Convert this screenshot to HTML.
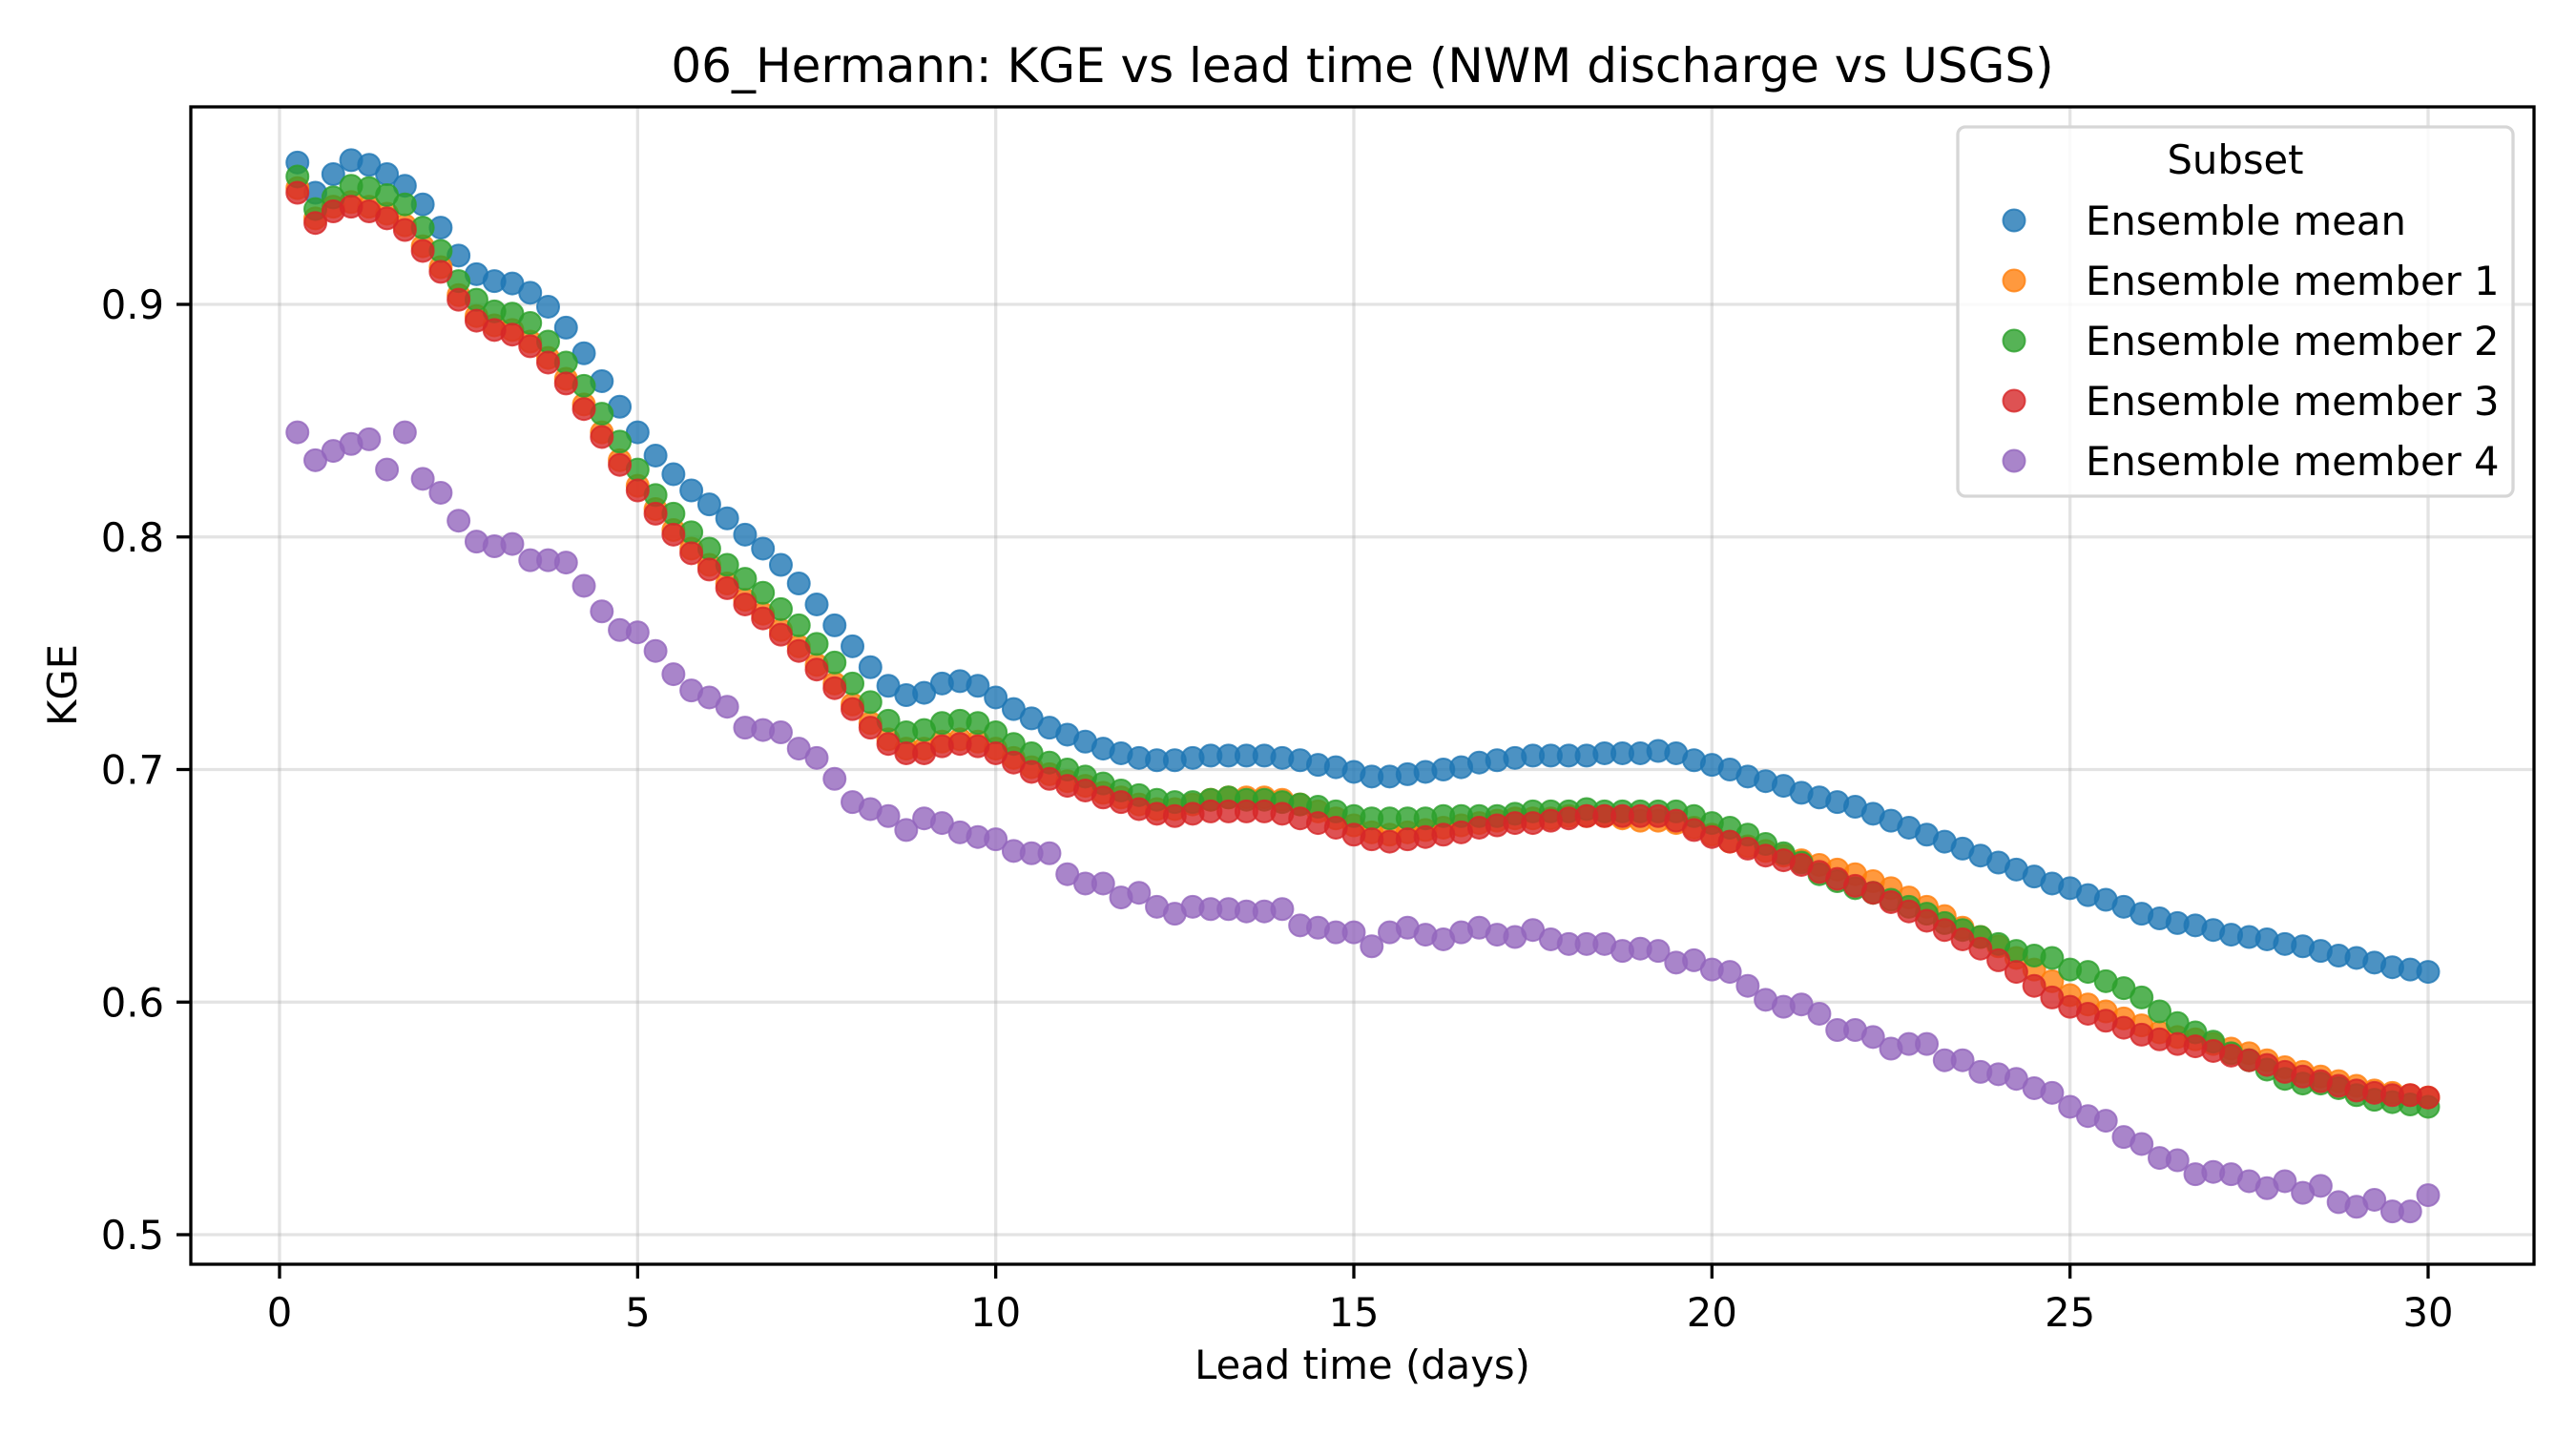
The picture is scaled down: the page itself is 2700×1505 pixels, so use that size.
<!DOCTYPE html>
<html><head><meta charset="utf-8"><style>
html,body{margin:0;padding:0;background:#fff;}
svg text{font-family:"DejaVu Sans","Liberation Sans",sans-serif;fill:#000;}
</style></head><body>
<svg id="chart" width="2700" height="1500" viewBox="0 0 2700 1500" xmlns="http://www.w3.org/2000/svg">
<rect x="0" y="0" width="2700" height="1500" fill="#fff"/>
<text x="1428" y="86" font-size="50" text-anchor="middle">06_Hermann: KGE vs lead time (NWM discharge vs USGS)</text>
<g id="grid"></g>
<g id="marks"></g>
<rect x="200" y="112" width="2456" height="1213" fill="none" stroke="#000" stroke-width="3.3"/>
<g id="axes"></g>
<text x="1428" y="1445" font-size="41.7" text-anchor="middle">Lead time (days)</text>
<text x="0" y="0" font-size="41.7" text-anchor="middle" transform="translate(80,718) rotate(-90)">KGE</text>
<g id="legend">
<rect x="2052" y="133" width="582" height="387" rx="8" fill="#fff" fill-opacity="0.8" stroke="#d6d6d6" stroke-width="3.3"/>
<text x="2343" y="182" font-size="41.7" text-anchor="middle">Subset</text>
</g>
</svg>
<script>
const days = Array.from({length:120},(_,i)=>0.25*(i+1));
const seriesNames = ["Ensemble mean","Ensemble member 1","Ensemble member 2","Ensemble member 3","Ensemble member 4"];
const colors = ["#1f77b4","#ff7f0e","#2ca02c","#d62728","#9467bd"];
const xTicks = [0,5,10,15,20,25,30];
const yTicks = [0.5,0.6,0.7,0.8,0.9];
const meanVals = [0.961,0.948,0.956,0.962,0.960,0.956,0.951,0.943,0.933,0.921,
0.913,0.910,0.909,0.905,0.899,0.890,0.879,0.867,0.856,0.845,
0.835,0.827,0.820,0.814,0.808,0.801,0.795,0.788,0.780,0.771,
0.762,0.753,0.744,0.736,0.732,0.733,0.737,0.738,0.736,0.731,
0.726,0.722,0.718,0.715,0.712,0.709,0.707,0.705,0.704,0.704,
0.705,0.706,0.706,0.706,0.706,0.705,0.704,0.702,0.701,0.699,
0.697,0.697,0.698,0.699,0.700,0.701,0.703,0.704,0.705,0.706,
0.706,0.706,0.706,0.707,0.707,0.707,0.708,0.707,0.704,0.702,
0.700,0.697,0.695,0.693,0.690,0.688,0.686,0.684,0.681,0.678,
0.675,0.672,0.669,0.666,0.663,0.660,0.657,0.654,0.651,0.649,
0.646,0.644,0.641,0.638,0.636,0.634,0.633,0.631,0.629,0.628,
0.627,0.625,0.624,0.622,0.620,0.619,0.617,0.615,0.614,0.613];
const member1Vals = [0.950,0.937,0.942,0.944,0.942,0.939,0.934,0.925,0.916,0.904,
0.895,0.891,0.889,0.884,0.877,0.868,0.857,0.845,0.833,0.822,
0.812,0.803,0.795,0.788,0.780,0.773,0.767,0.760,0.753,0.745,
0.737,0.728,0.720,0.713,0.709,0.709,0.712,0.713,0.712,0.709,
0.705,0.701,0.698,0.695,0.693,0.690,0.688,0.685,0.683,0.683,
0.685,0.687,0.688,0.688,0.688,0.687,0.685,0.682,0.679,0.676,
0.673,0.672,0.673,0.674,0.675,0.676,0.677,0.678,0.679,0.679,
0.679,0.680,0.680,0.680,0.679,0.678,0.678,0.677,0.675,0.672,
0.669,0.667,0.665,0.663,0.661,0.659,0.657,0.655,0.652,0.649,
0.645,0.641,0.637,0.632,0.628,0.624,0.619,0.614,0.609,0.603,
0.599,0.596,0.593,0.590,0.587,0.585,0.584,0.582,0.580,0.578,
0.575,0.572,0.570,0.568,0.566,0.564,0.562,0.561,0.560,0.559];
const member2Vals = [0.955,0.941,0.946,0.951,0.950,0.947,0.943,0.933,0.923,0.910,
0.902,0.897,0.896,0.892,0.884,0.875,0.865,0.853,0.841,0.829,
0.818,0.810,0.802,0.795,0.788,0.782,0.776,0.769,0.762,0.754,
0.746,0.737,0.729,0.721,0.716,0.717,0.720,0.721,0.720,0.716,
0.711,0.707,0.703,0.700,0.697,0.694,0.691,0.689,0.687,0.686,
0.686,0.687,0.688,0.687,0.687,0.686,0.685,0.684,0.682,0.680,
0.679,0.679,0.679,0.679,0.680,0.680,0.680,0.680,0.681,0.682,
0.682,0.682,0.683,0.682,0.682,0.682,0.682,0.682,0.680,0.677,
0.675,0.672,0.668,0.664,0.660,0.655,0.652,0.649,0.647,0.644,
0.641,0.638,0.634,0.631,0.628,0.625,0.622,0.620,0.619,0.614,
0.613,0.609,0.606,0.602,0.596,0.591,0.587,0.583,0.578,0.575,
0.571,0.567,0.565,0.565,0.563,0.560,0.558,0.557,0.556,0.555];
const member3Vals = [0.948,0.935,0.940,0.942,0.940,0.937,0.932,0.923,0.914,0.902,
0.893,0.889,0.887,0.882,0.875,0.866,0.855,0.843,0.831,0.820,
0.810,0.801,0.793,0.786,0.778,0.771,0.765,0.758,0.751,0.743,
0.735,0.726,0.718,0.711,0.707,0.707,0.710,0.711,0.710,0.707,
0.703,0.699,0.696,0.693,0.691,0.688,0.686,0.683,0.681,0.680,
0.681,0.682,0.682,0.682,0.682,0.681,0.679,0.677,0.675,0.672,
0.670,0.669,0.670,0.671,0.672,0.673,0.675,0.676,0.677,0.677,
0.678,0.679,0.680,0.680,0.680,0.680,0.680,0.678,0.674,0.671,
0.669,0.666,0.663,0.661,0.659,0.656,0.653,0.650,0.647,0.643,
0.639,0.635,0.631,0.627,0.623,0.618,0.613,0.607,0.602,0.598,
0.595,0.592,0.589,0.586,0.584,0.582,0.581,0.579,0.577,0.575,
0.573,0.570,0.568,0.566,0.564,0.562,0.561,0.560,0.560,0.559];
const member4Vals = [0.845,0.833,0.837,0.840,0.842,0.829,0.845,0.825,0.819,0.807,
0.798,0.796,0.797,0.790,0.790,0.789,0.779,0.768,0.760,0.759,
0.751,0.741,0.734,0.731,0.727,0.718,0.717,0.716,0.709,0.705,
0.696,0.686,0.683,0.680,0.674,0.679,0.677,0.673,0.671,0.670,
0.665,0.664,0.664,0.655,0.651,0.651,0.645,0.647,0.641,0.638,
0.641,0.640,0.640,0.639,0.639,0.640,0.633,0.632,0.630,0.630,
0.624,0.630,0.632,0.629,0.627,0.630,0.632,0.629,0.628,0.631,
0.627,0.625,0.625,0.625,0.622,0.623,0.622,0.617,0.618,0.614,
0.613,0.607,0.601,0.598,0.599,0.595,0.588,0.588,0.585,0.580,
0.582,0.582,0.575,0.575,0.570,0.569,0.567,0.563,0.561,0.555,
0.551,0.549,0.542,0.539,0.533,0.532,0.526,0.527,0.526,0.523,
0.520,0.523,0.518,0.521,0.514,0.512,0.515,0.510,0.510,0.517];
const allSeries = [meanVals,member1Vals,member2Vals,member3Vals,member4Vals];
const NS="http://www.w3.org/2000/svg";
const xs = d => 293 + d*(2545-293)/30;
const ys = v => 1294 - (v-0.5)*(1294-319)/0.4;
function mk(tag, attrs){const e=document.createElementNS(NS,tag);for(const k in attrs)e.setAttribute(k,attrs[k]);return e;}
const grid=document.getElementById('grid'), axes=document.getElementById('axes'), marks=document.getElementById('marks'), legend=document.getElementById('legend');
xTicks.forEach(t=>{
  const x=xs(t);
  const g=mk('line',{x1:x,x2:x,y1:112,y2:1325,stroke:'#b0b0b0','stroke-opacity':0.35,'stroke-width':3.3});
  
  
  grid.appendChild(g);
  const tk=mk('line',{x1:x,x2:x,y1:1325,y2:1340,stroke:'#000','stroke-width':3.3});
  
  
  axes.appendChild(tk);
  const tl=mk('text',{x:x,y:1390,'font-size':41.7,'text-anchor':'middle'});
  
  
  tl.textContent=String(t);axes.appendChild(tl);
});
yTicks.forEach(t=>{
  const y=ys(t);
  const g=mk('line',{x1:200,x2:2656,y1:y,y2:y,stroke:'#b0b0b0','stroke-opacity':0.35,'stroke-width':3.3});
  
  
  grid.appendChild(g);
  const tk=mk('line',{x1:185,x2:200,y1:y,y2:y,stroke:'#000','stroke-width':3.3});
  
  
  axes.appendChild(tk);
  const tl=mk('text',{x:172,y:y+15,'font-size':41.7,'text-anchor':'end'});
  
  
  tl.textContent=t.toFixed(1);axes.appendChild(tl);
});
allSeries.forEach((vals,si)=>{
  const g=mk('g',{fill:colors[si],'fill-opacity':0.8,stroke:colors[si],'stroke-opacity':0.8,'stroke-width':2});
  
  
  vals.forEach((v,i)=>{
    const c=mk('circle',{cx:xs(days[i]),cy:ys(v),r:11.5});
    
    
    g.appendChild(c);
  });
  marks.appendChild(g);
  const ly=231+si*63;
  const lm=mk('circle',{cx:2111,cy:ly,r:11.5,fill:colors[si],'fill-opacity':0.8,stroke:colors[si],'stroke-opacity':0.8,'stroke-width':2});
  
  
  legend.appendChild(lm);
  const lt=mk('text',{x:2186,y:ly+15,'font-size':41.7});
  
  
  lt.textContent=seriesNames[si];legend.appendChild(lt);
});
</script>
</body></html>
